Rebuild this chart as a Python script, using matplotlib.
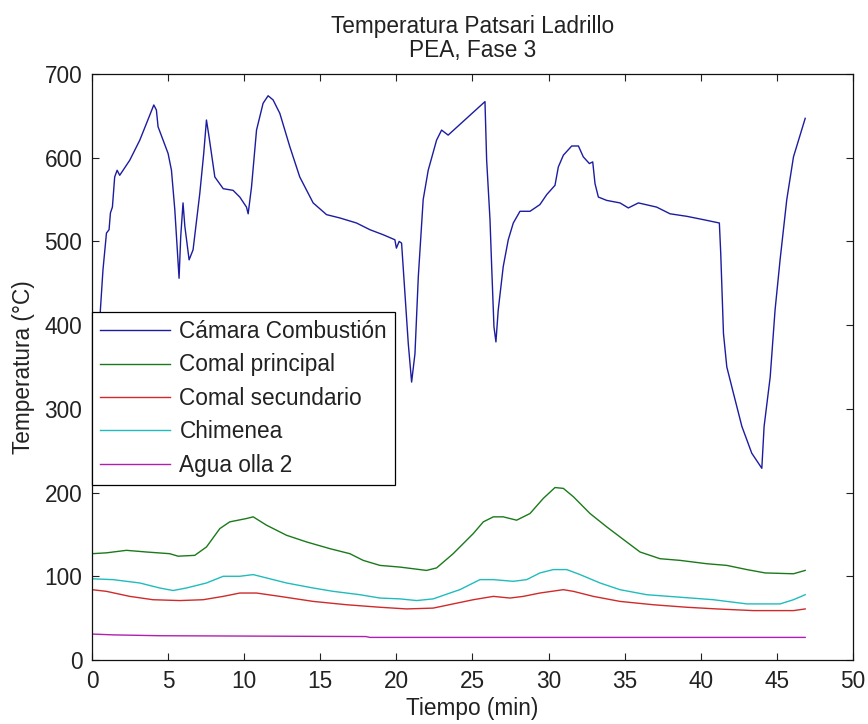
import numpy as np
import matplotlib
matplotlib.use("Agg")
import matplotlib.pyplot as plt

plt.rcParams['font.family'] = ['Liberation Sans', 'DejaVu Sans']

# Cámara Combustión
t_cam = [0, 0.1, 0.55, 0.72, 0.95, 1.12, 1.21, 1.34, 1.49, 1.65, 1.82, 2.48, 3.14, 3.58,
         4.06, 4.23, 4.34, 4.67, 5.0, 5.22, 5.44, 5.72, 5.83, 5.98, 6.1, 6.38, 6.64, 7.08,
         7.34, 7.52, 7.69, 8.07, 8.62, 9.27, 9.71, 10.15, 10.26, 10.48, 10.81, 11.24, 11.57,
         11.9, 12.34, 13.0, 13.65, 14.53, 15.41, 16.29, 17.38, 18.26, 19.13, 19.9, 20.0,
         20.18, 20.34, 20.56, 20.78, 21.0, 21.22, 21.44, 21.76, 22.09, 22.64, 22.97, 23.4,
         25.82, 25.93, 26.15, 26.26, 26.41, 26.54, 26.69, 27.02, 27.35, 27.68, 28.12, 28.78,
         29.43, 29.88, 30.42, 30.64, 30.97, 31.52, 31.96, 32.28, 32.68, 32.9, 33.05, 33.27,
         33.82, 34.69, 35.24, 35.9, 37.1, 37.98, 39.08, 40.17, 41.22, 41.31, 41.49, 41.71,
         42.14, 42.7, 43.35, 44.01, 44.16, 44.56, 44.88, 45.21, 45.65, 46.09, 46.86]
v_cam = [205, 230, 418, 466, 510, 514, 534, 541, 577, 585, 579, 597, 621, 641,
         663, 657, 637, 621, 605, 585, 538, 456, 506, 546, 518, 478, 490, 557,
         605, 645, 625, 577, 563, 561, 553, 541, 533, 565, 633, 665, 674,
         669, 653, 613, 577, 546, 532, 528, 522, 514, 508, 502, 492,
         500, 498, 438, 378, 332, 366, 458, 550, 585, 621, 633, 627,
         667, 597, 526, 470, 398, 380, 418, 470, 502, 522, 536, 536,
         544, 556, 567, 589, 603, 614, 614, 601, 593, 595, 569, 553,
         549, 546, 540, 546, 541, 533, 530, 526, 522, 486, 390, 350,
         319, 279, 247, 229, 279, 338, 418, 478, 550, 601, 647]

# Comal principal
t_cp = [0, 0.95, 2.26, 3.58, 5.1, 5.66, 6.75, 7.52, 8.4, 9.05, 10.15, 10.59, 11.47, 12.78,
        14.1, 15.63, 16.94, 17.82, 18.92, 20.23, 21.98, 22.64, 23.73, 24.61, 25.05, 25.71,
        26.37, 27.02, 27.9, 28.78, 29.65, 30.42, 30.97, 31.63, 32.72, 33.82, 35.13, 36.01,
        37.32, 38.64, 40.39, 41.71, 43.03, 44.23, 46.09, 46.86]
v_cp = [127, 128, 131, 129, 127, 124, 125, 135, 157, 165, 169, 171, 161, 149,
        141, 133, 127, 119, 113, 111, 107, 110, 127, 143, 151, 165,
        171, 171, 167, 175, 193, 206, 205, 195, 175, 159, 141, 129,
        121, 119, 115, 113, 108, 104, 103, 107]

# Comal secundario
t_cs = [0, 0.95, 2.48, 4.01, 5.77, 7.3, 8.62, 9.71, 10.81, 12.34, 14.53, 16.73, 18.92,
        20.67, 22.42, 23.73, 25.05, 26.37, 27.46, 28.34, 29.43, 30.97, 31.63, 32.94, 34.69,
        36.88, 39.08, 41.05, 43.46, 46.09, 46.86]
v_cs = [84, 82, 76, 72, 71, 72, 76, 80, 80, 76, 70, 66, 63,
        61, 62, 67, 72, 76, 74, 76, 80, 84, 82, 76, 70,
        66, 63, 61, 59, 59, 61]

# Chimenea
t_ch = [0, 1.38, 3.14, 4.45, 5.33, 6.2, 7.52, 8.62, 9.71, 10.59, 11.47, 12.78, 14.53,
        15.85, 17.6, 18.92, 20.23, 21.33, 22.42, 23.52, 24.17, 25.49, 26.37, 27.68, 28.56,
        29.43, 30.31, 31.19, 32.07, 33.38, 34.69, 36.45, 38.64, 40.83, 43.03, 45.21, 46.09,
        46.86]
v_ch = [97, 96, 92, 86, 83, 86, 92, 100, 100, 102, 98, 92, 86,
        82, 78, 74, 73, 71, 73, 80, 84, 96, 96, 94, 96,
        104, 108, 108, 102, 92, 84, 78, 75, 72, 67, 67, 72,
        78]

# Agua olla 2
t_ag = [0, 1.4, 4.45, 18.0, 18.26, 46.86]
v_ag = [31, 30, 29, 28, 27, 27]

labels = ["Cámara Combustión", "Comal principal", "Comal secundario", "Chimenea", "Agua olla 2"]
colors = ["#1c1ca0", "#1a7a1a", "#d02a2a", "#20bcbc", "#b020b0"]

FS = 16.3

fig = plt.figure(figsize=(8.68, 7.24), dpi=100)
ax = fig.add_axes([0.106, 0.0884, 0.8767, 0.8094])

series = [(t_cam, v_cam), (t_cp, v_cp), (t_cs, v_cs), (t_ch, v_ch), (t_ag, v_ag)]
for (t, v), lab, c in zip(series, labels, colors):
    ax.plot(t, v, color=c, lw=1.0, label=lab)

ax.set_xlim(0, 50)
ax.set_ylim(0, 700)
ax.set_xticks(np.arange(0, 51, 5))
ax.set_yticks(np.arange(0, 701, 100))
ax.tick_params(direction='in', length=5, width=0.8, top=True, right=True,
               labelsize=FS, pad=7, colors='#222222')
for s in ax.spines.values():
    s.set_linewidth(0.9)
    s.set_color('#111111')

ax.set_xlabel("Tiempo (min)", fontsize=FS, labelpad=3, color='#222222')
ax.set_ylabel("Temperatura (°C)", fontsize=FS, labelpad=7, color='#222222')
ax.set_title("Temperatura Patsari Ladrillo\nPEA, Fase 3", fontsize=FS, pad=12,
             color='#222222', linespacing=1.1)

leg = ax.legend(loc='upper left', bbox_to_anchor=(0, 0.594), borderaxespad=0,
                fontsize=FS, frameon=True, fancybox=False, framealpha=1,
                edgecolor='black', borderpad=0.36, labelspacing=0.46,
                handlelength=3.1, handletextpad=0.4)
leg.get_frame().set_linewidth(0.9)
for txt in leg.get_texts():
    txt.set_color('#222222')

fig.savefig("out.png", dpi=100)
